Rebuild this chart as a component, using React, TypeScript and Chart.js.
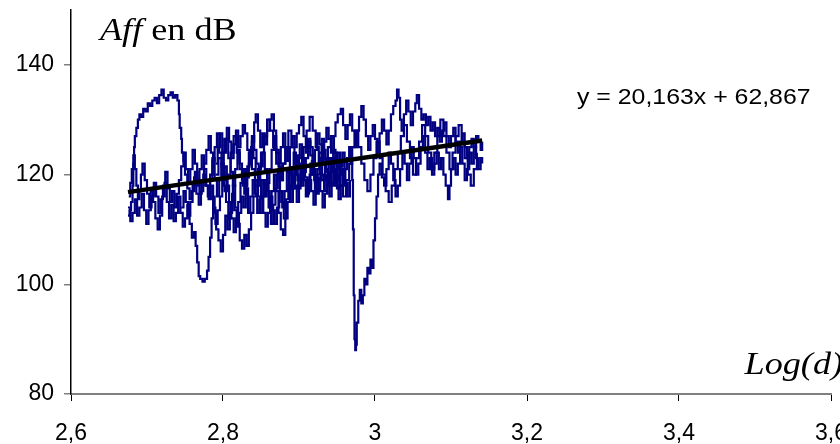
import React, { useEffect, useRef } from 'react';
import { Chart, registerables } from 'chart.js';

Chart.register(...registerables);

// Axis ticks and their printed labels (French decimal comma)
const xTicks = [2.6, 2.8, 3.0, 3.2, 3.4, 3.6];
const xTickLabels = ['2,6', '2,8', '3', '3,2', '3,4', '3,6'];
const yTicks = [80, 100, 120, 140];

// Linear regression of the attenuation against log distance
const trendSlope = 20.163;
const trendIntercept = 62.867;
const trendRange = [2.675, 3.141];

// Measured attenuation traces: [log(d), Aff in dB]
const trace1: [number, number][] = [
  [2.675,112.5],[2.677,113.5],[2.679,115],[2.681,118],[2.682,122],[2.683,125],[2.684,127],[2.686,128.5],[2.688,130],[2.690,131],
  [2.692,130.5],[2.695,132],[2.698,131.5],[2.701,133],[2.704,132.5],[2.707,133.5],[2.710,134],[2.713,133],[2.716,134.5],[2.719,135.5],
  [2.722,134],[2.725,133.5],[2.728,134.5],[2.731,135],[2.734,134],[2.737,134.5],[2.740,133.5],[2.742,131],[2.743,128.5],[2.745,126.5],
  [2.746,124],[2.748,122.5],[2.750,120],[2.753,117.5],[2.756,115.5],[2.759,117],[2.762,119.5],[2.765,116.5],[2.768,114.5],[2.771,117],
  [2.774,120],[2.777,118],[2.780,116],[2.783,119],[2.786,122.5],[2.789,125],[2.792,127.5],[2.795,124],[2.798,121.5],[2.801,124],
  [2.804,126.5],[2.807,123],[2.810,120.5],[2.813,118],[2.816,121],[2.819,124.5],[2.822,122],[2.825,119],[2.828,116.5],[2.831,119.5],
  [2.834,122],[2.837,125],[2.840,123],[2.843,120],[2.846,118],[2.849,121.5],[2.852,124],[2.855,121],[2.858,118.5],[2.861,121],
  [2.864,124.5],[2.867,127],[2.870,124],[2.873,121.5],[2.876,119],[2.879,122],[2.882,125],[2.885,122.5],[2.888,120],[2.891,117.5],
  [2.894,120],[2.897,123.5],[2.900,121],[2.903,118],[2.906,120.5],[2.909,123],[2.912,126],[2.915,123.5],[2.918,121],[2.921,118.5],
  [2.924,121],[2.927,124],[2.930,126.5],[2.933,123],[2.936,120.5],[2.939,118],[2.942,121],[2.945,124.5],[2.948,122],[2.951,119],
  [2.954,121.5],[2.957,124],[2.960,121],
];

const trace2: [number, number][] = [
  [2.675,114],[2.678,111.5],[2.681,113],[2.684,115.5],[2.687,112.5],[2.690,114],[2.693,116.5],[2.696,113.5],[2.699,111],[2.702,113.5],
  [2.705,117],[2.708,115],[2.711,112],[2.714,110],[2.717,112.5],[2.720,116],[2.723,118.5],[2.726,115],[2.729,112],[2.732,114.5],
  [2.735,111.5],[2.738,113],[2.741,116],[2.744,113],[2.747,110.5],[2.750,112],[2.753,114.5],[2.756,111],[2.759,108.5],[2.762,109.5],
  [2.764,107],[2.766,104],[2.768,101.5],[2.770,101],[2.773,100.5],[2.776,101],[2.779,102.5],[2.781,105],[2.783,108.5],[2.785,112],
  [2.787,116],[2.789,113],[2.791,110],[2.794,108],[2.797,106],[2.800,109],[2.803,112.5],[2.806,110],[2.809,113],[2.812,116.5],
  [2.815,113.5],[2.818,110.5],[2.821,113],[2.824,116],[2.827,114],[2.830,117.5],[2.833,113],[2.836,116],[2.839,119],[2.842,116.5],
  [2.845,113],[2.848,115.5],[2.851,119],[2.854,116],[2.857,118.5],[2.860,114],[2.863,111],[2.866,114.5],[2.869,117.5],[2.872,120.5],
  [2.875,117],[2.878,114],[2.881,117],[2.884,120.5],[2.887,118],[2.890,121],[2.893,124],[2.896,120],[2.899,117.5],[2.902,120.5],
  [2.905,123],[2.908,119.5],[2.911,117],[2.914,120],[2.917,122.5],[2.920,119],[2.923,116.5],[2.926,119],[2.929,122],[2.932,124.5],
  [2.935,121],[2.938,118],[2.941,120.5],[2.944,123],[2.947,120],[2.950,117.5],[2.953,120],[2.956,122.5],
];

const trace3: [number, number][] = [
  [2.780,117],[2.783,120],[2.786,123],[2.789,119],[2.792,116],[2.795,119],[2.798,122],[2.801,118],[2.804,115],[2.807,112],
  [2.810,115],[2.813,118],[2.816,114],[2.819,111],[2.822,108],[2.825,106.5],[2.828,109],[2.831,107],[2.834,110],[2.837,113],
  [2.840,116],[2.843,119],[2.846,116],[2.849,113],[2.852,116],[2.855,119],[2.858,117],[2.861,114],[2.864,117],[2.867,120],
  [2.870,117],[2.873,113],[2.876,110],[2.879,109],[2.882,112],[2.885,115],[2.888,118],[2.891,121],[2.894,118],[2.897,115],
  [2.900,118],[2.903,121],[2.906,119],[2.909,116],[2.912,119],[2.915,122],[2.918,120],[2.921,117],[2.924,120],[2.927,123],
  [2.930,120],[2.933,117],[2.936,120],[2.939,123],[2.942,121],[2.945,118],[2.948,121],[2.951,124],[2.954,121],[2.957,118],
  [2.960,121],[2.963,123],[2.966,125],[2.968,122],[2.970,119],[2.971,110],[2.972,98],[2.973,90],[2.974,88],[2.975,89],
  [2.976,93],[2.978,97],[2.980,99],[2.982,96.5],[2.984,98],[2.986,101],[2.988,100],[2.990,103],[2.992,102],[2.994,104.5],
  [2.996,103],[2.998,108],[3.000,112],[3.002,116],[3.004,120],[3.006,122],[3.009,119.5],[3.012,118],[3.015,121],[3.018,124],
  [3.021,122],[3.024,119],[3.027,116],[3.030,118],[3.033,121],[3.036,124],[3.039,122],[3.042,119],[3.045,122],[3.048,125],
  [3.051,123],[3.054,120],[3.057,122],[3.060,125],[3.063,127],[3.066,124],[3.069,121],[3.072,123],[3.075,120],[3.078,122],
  [3.081,124],[3.084,121],[3.087,123],[3.090,120],[3.093,118],[3.096,115.5],[3.098,118],[3.100,121],[3.103,123],[3.106,120],
  [3.109,122],[3.112,125],[3.115,122],[3.118,119],[3.121,121],[3.124,124],[3.127,122],[3.130,125],[3.133,123],[3.136,121],
  [3.139,123],[3.141,122],
];

const trace4: [number, number][] = [
  [2.790,122],[2.793,125],[2.796,127.5],[2.799,124],[2.802,126.5],[2.805,128.5],[2.808,126],[2.811,123],[2.814,125.5],[2.817,128],
  [2.820,125],[2.823,127],[2.826,129],[2.829,127.5],[2.832,124.5],[2.835,122],[2.838,126],[2.841,129.5],[2.843,131],[2.846,128],
  [2.849,125],[2.852,127.5],[2.855,125.5],[2.858,128],[2.861,130],[2.864,131],[2.867,128],[2.870,124.5],[2.873,122],[2.876,125],
  [2.879,127.5],[2.882,125],[2.885,122.5],[2.888,125],[2.891,127],[2.894,125],[2.897,127.5],[2.900,129],[2.903,130.5],[2.906,127],
  [2.909,124],[2.912,126.5],[2.915,125],[2.918,122],[2.921,124.5],[2.924,127.5],[2.927,125.5],[2.930,123],[2.933,126],[2.936,128.5],
  [2.939,126.5],[2.942,124],[2.945,127],[2.948,129.5],[2.951,131],[2.955,132],[2.958,129],[2.961,126.5],[2.964,129],[2.967,131],
  [2.970,128],[2.973,125],[2.976,128],[2.979,130.5],[2.982,132.5],[2.985,130],[2.988,127],[2.991,124.5],[2.994,127],[2.997,129],
  [3.000,126.5],[3.003,124],[3.006,127.5],[3.009,130],[3.012,128],[3.015,125.5],[3.018,128],[3.021,131],[3.024,132.5],[3.027,133.5],
  [3.029,135.5],[3.031,134],[3.033,130],[3.035,128],[3.038,131],[3.041,133.5],[3.044,131.5],[3.047,129],[3.050,131.5],[3.053,133],
  [3.055,134.5],[3.058,132],[3.061,130],[3.064,131],[3.067,129],[3.070,130.5],[3.073,128],[3.076,129.5],[3.079,127],[3.082,128.5],
  [3.085,126],[3.088,128],[3.091,129.5],[3.094,127],[3.097,125],[3.100,127],[3.103,128.5],[3.106,126],[3.109,124],[3.112,126],
  [3.115,127.5],[3.118,125],[3.121,123],[3.124,125],[3.127,126.5],[3.130,125],[3.133,127],[3.136,126],[3.139,124.5],[3.141,126],
];

const trace5: [number, number][] = [
  [2.790,120],[2.794,123],[2.798,120],[2.802,117],[2.806,120],[2.810,124],[2.814,127],[2.818,124],[2.822,121],[2.826,118],
  [2.830,121],[2.834,124],[2.838,121],[2.842,118],[2.846,121],[2.850,124],[2.854,127],[2.858,130],[2.862,128],[2.866,125],
  [2.870,122],[2.874,119],[2.878,122],[2.882,125],[2.886,128],[2.890,125],[2.894,122],[2.898,119],[2.902,122],[2.906,125],
  [2.910,128],[2.914,130.5],[2.918,128],[2.922,125],[2.926,122],[2.930,119],[2.934,122],[2.938,125],[2.942,127],[2.946,124],
  [2.950,121],[2.954,118],[2.958,116],[2.962,119],[2.966,122],[2.970,125],[2.974,128],[2.978,125],[2.982,122],[2.986,119],
  [2.990,117],[2.994,120],[2.998,123],[3.002,126],[3.006,123],[3.010,120],[3.014,117],[3.018,115],[3.022,118],[3.026,121],
  [3.030,124],[3.034,127],[3.038,129],[3.042,126],[3.046,123],[3.050,120],[3.054,123],[3.058,126],[3.062,129],[3.066,127],
  [3.070,124],[3.074,121],[3.078,124],[3.082,127],[3.086,130],[3.090,127],[3.094,124],[3.098,121],[3.102,124],[3.106,127],
  [3.110,129],[3.114,126],[3.118,123],[3.122,120],[3.126,118],[3.130,121],[3.134,124],
];

const trace6: [number, number][] = [
  [2.676,116],[2.678,118.5],[2.680,121],[2.682,123.5],[2.684,121],[2.686,118],[2.688,115.5],[2.690,117],[2.692,120],[2.694,122],
  [2.697,119],[2.700,116.5],[2.703,114],[2.706,116],[2.709,118.5],[2.712,116],[2.715,113],[2.718,115.5],[2.721,118],[2.724,120.5],
  [2.727,117.5],[2.730,115],[2.733,117],[2.736,114],[2.739,116.5],[2.742,119],[2.745,121.5],[2.748,124],[2.751,121],[2.754,118.5],
  [2.757,121],[2.760,124.5],[2.763,122],[2.766,119],[2.769,116.5],[2.772,119],[2.775,122],[2.778,124.5],[2.781,127],[2.784,124],
  [2.787,121],
];

const trace7: [number, number][] = [
  [2.745,114],[2.748,117],[2.751,115],[2.754,112.5],[2.757,115],[2.760,118],[2.763,120.5],[2.766,118],[2.769,121],[2.772,123.5],
  [2.775,121],[2.778,118],[2.781,115.5],[2.784,118],[2.787,114],[2.790,111],[2.793,113.5],[2.796,116],[2.799,119],[2.802,121.5],
  [2.805,118],[2.808,115],[2.811,112],[2.814,109.5],[2.817,112],[2.820,115],[2.823,118.5],[2.826,121],[2.829,118],[2.832,121.5],
  [2.835,124],[2.838,127],[2.841,124.5],[2.844,122],[2.847,119],[2.850,116],[2.853,113],[2.856,110.5],[2.859,113],[2.862,116],
  [2.865,113.5],[2.868,111],[2.871,114],[2.874,117],[2.877,115],[2.880,112],[2.883,115.5],[2.886,118],[2.889,115],[2.892,117.5],
  [2.895,120],[2.898,123],[2.901,125.5],[2.904,122],[2.907,119],[2.910,116.5],[2.913,119],[2.916,117],[2.919,114.5],[2.922,117],
  [2.925,119.5],[2.928,117],[2.931,114],[2.934,116.5],[2.937,119],[2.940,116],[2.943,118.5],[2.946,121],[2.949,118],[2.952,115.5],
  [2.955,118],[2.958,121],[2.961,118.5],[2.964,116],[2.967,119],
];

const traces = [trace1, trace2, trace3, trace4, trace5, trace6, trace7];

const fmt = (v: number) => String(v).replace('.', ',');
const equationText = `y = ${fmt(trendSlope)}x + ${fmt(trendIntercept)}`;

const NAVY = '#000080';
const TEXT_STRETCH = 1.13;

// Draws a string slightly widened horizontally, anchored at (x, y)
function stretchedText(ctx: CanvasRenderingContext2D, text: string, x: number, y: number, align: 'left' | 'right') {
  ctx.save();
  ctx.translate(x, y);
  ctx.scale(TEXT_STRETCH, 1);
  ctx.textAlign = align;
  ctx.fillText(text, 0, 0);
  const w = ctx.measureText(text).width * TEXT_STRETCH;
  ctx.restore();
  return w;
}

const annotations = {
  id: 'annotations',
  afterDraw(chart: Chart) {
    const { ctx } = chart;
    ctx.save();
    ctx.fillStyle = '#000';
    ctx.textBaseline = 'alphabetic';
    // y-axis title: "Aff" italic, "en dB" upright
    ctx.font = 'italic 32px "Liberation Serif"';
    const w = stretchedText(ctx, 'Aff', 100, 40, 'left');
    ctx.font = '32px "Liberation Serif"';
    stretchedText(ctx, ' en dB', 100 + w, 40, 'left');
    // regression equation
    ctx.font = '22px "Liberation Sans"';
    stretchedText(ctx, equationText, 577, 104, 'left');
    // x-axis title
    ctx.font = 'italic 32px "Liberation Serif"';
    stretchedText(ctx, 'Log(d)', 843, 374, 'right');
    ctx.restore();
  },
};

export default function App() {
  const ref = useRef<HTMLCanvasElement>(null);

  useEffect(() => {
    document.body.style.margin = '0';
    const canvas = ref.current;
    if (!canvas) return;

    const datasets: any[] = traces.map((t) => ({
      data: t.map(([x, y]) => ({ x, y })),
      borderColor: NAVY,
      borderWidth: 2.2,
      pointRadius: 0,
      stepped: true,
      fill: false,
    }));
    datasets.push({
      data: trendRange.map((x) => ({ x, y: trendSlope * x + trendIntercept })),
      borderColor: '#000',
      borderWidth: 4.5,
      pointRadius: 0,
      fill: false,
      order: -1,
    });

    const chart = new Chart(canvas, {
      type: 'line',
      data: { datasets },
      options: {
        animation: false,
        responsive: false,
        devicePixelRatio: 1,
        layout: { padding: { top: 10, right: 9, left: 0, bottom: 0 } },
        plugins: { legend: { display: false }, tooltip: { enabled: false } },
        scales: {
          x: {
            type: 'linear',
            min: 2.6,
            max: 3.6,
            afterBuildTicks: (s: any) => {
              s.ticks = xTicks.map((v) => ({ value: v }));
            },
            afterFit: (s: any) => {
              s.height = 50;
              s.paddingLeft = 0;
              s.paddingRight = 0;
            },
            ticks: {
              autoSkip: false,
              maxRotation: 0,
              padding: 19,
              color: '#000',
              font: { family: '"Liberation Sans"', size: 23 },
              callback: (v: any) => {
                const i = xTicks.findIndex((t) => Math.abs(t - Number(v)) < 1e-6);
                return i >= 0 ? xTickLabels[i] : '';
              },
            },
            grid: { drawOnChartArea: false, drawTicks: true, tickLength: 7, color: '#000', lineWidth: 1 },
            border: { display: true, color: '#808080', width: 2 },
          },
          y: {
            type: 'linear',
            min: 80,
            max: 150,
            afterBuildTicks: (s: any) => {
              s.ticks = yTicks.map((v) => ({ value: v }));
            },
            afterFit: (s: any) => {
              s.width = 71;
              s.paddingTop = 0;
              s.paddingBottom = 0;
            },
            ticks: {
              padding: 10,
              color: '#000',
              font: { family: '"Liberation Sans"', size: 23 },
            },
            grid: { drawOnChartArea: false, drawTicks: true, tickLength: 7, color: '#808080', lineWidth: 1.5 },
            border: { display: true, color: '#000', width: 1.5 },
          },
        },
      },
      plugins: [annotations],
    });

    return () => chart.destroy();
  }, []);

  return (
    <div style={{ width: 840, height: 444 }}>
      <canvas ref={ref} width={840} height={444} style={{ display: 'block' }} />
    </div>
  );
}
